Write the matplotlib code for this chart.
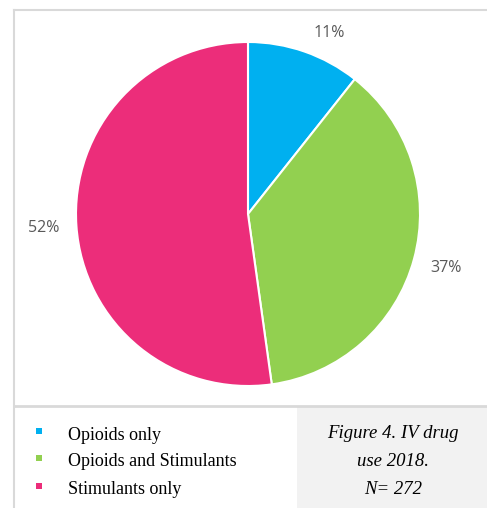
import matplotlib.pyplot as plt
from matplotlib.patches import Rectangle
from matplotlib.lines import Line2D

# IV drug use 2018, N = 272
categories = ['Opioids only', 'Opioids and Stimulants', 'Stimulants only']
counts = [29, 101, 142]
colors = ['#00B0F0', '#92D050', '#EC2D7A']
caption = ['Figure 4. IV drug', 'use 2018.', 'N= 272']

W, H = 487, 508
fig = plt.figure(figsize=(W / 100, H / 100), dpi=100)

def fx(x):
    return x / W

def fy(y):
    return 1 - y / H

# frame of the chart area and table below
border = '#D9D9D9'
fig.add_artist(Line2D([fx(14), 1], [fy(10), fy(10)], color=border, lw=1.5))
fig.add_artist(Line2D([fx(14), fx(14)], [fy(10), 0], color=border, lw=1.5))
fig.add_artist(Line2D([fx(14), 1], [fy(406), fy(406)], color=border, lw=2))
fig.add_artist(Rectangle((fx(297), 0), 1 - fx(297), fy(407), color='#F2F2F2', lw=0))

# pie: centre (248, 214), radius 172 px
r = 172
ax = fig.add_axes([fx(248 - r), fy(214 + r), 2 * r / W, 2 * r / H])
wedges, texts, autotexts = ax.pie(
    counts, colors=colors, startangle=90, counterclock=False,
    autopct='%1.0f%%', pctdistance=1.19,
    wedgeprops=dict(edgecolor='white', linewidth=1.5))
for t in autotexts:
    t.set_color('#595959')
    t.set_fontsize(11.5)
    t.set_fontfamily('Open Sans')
# small label sits a bit further right, like Excel places it
x0, y0 = autotexts[0].get_position()
autotexts[0].set_position((x0 + 0.08, y0 - 0.07))
ax.set_xlim(-1, 1)
ax.set_ylim(-1, 1)
ax.axis('off')

# legend
ys = [431, 458, 486]
for name, col, y in zip(categories, colors, ys):
    fig.add_artist(Rectangle((fx(36), fy(y + 3)), 6 / W, 6 / H, color=col, lw=0))
    fig.text(fx(68), fy(y + 4), name, fontsize=13, family='Liberation Serif',
             va='center', ha='left')

# caption
for line, y in zip(caption, [433, 462, 489]):
    fig.text(fx(393), fy(y), line, fontsize=13.5, family='Liberation Serif',
             style='italic', ha='center', va='center')

plt.savefig('out.png', dpi=100)
